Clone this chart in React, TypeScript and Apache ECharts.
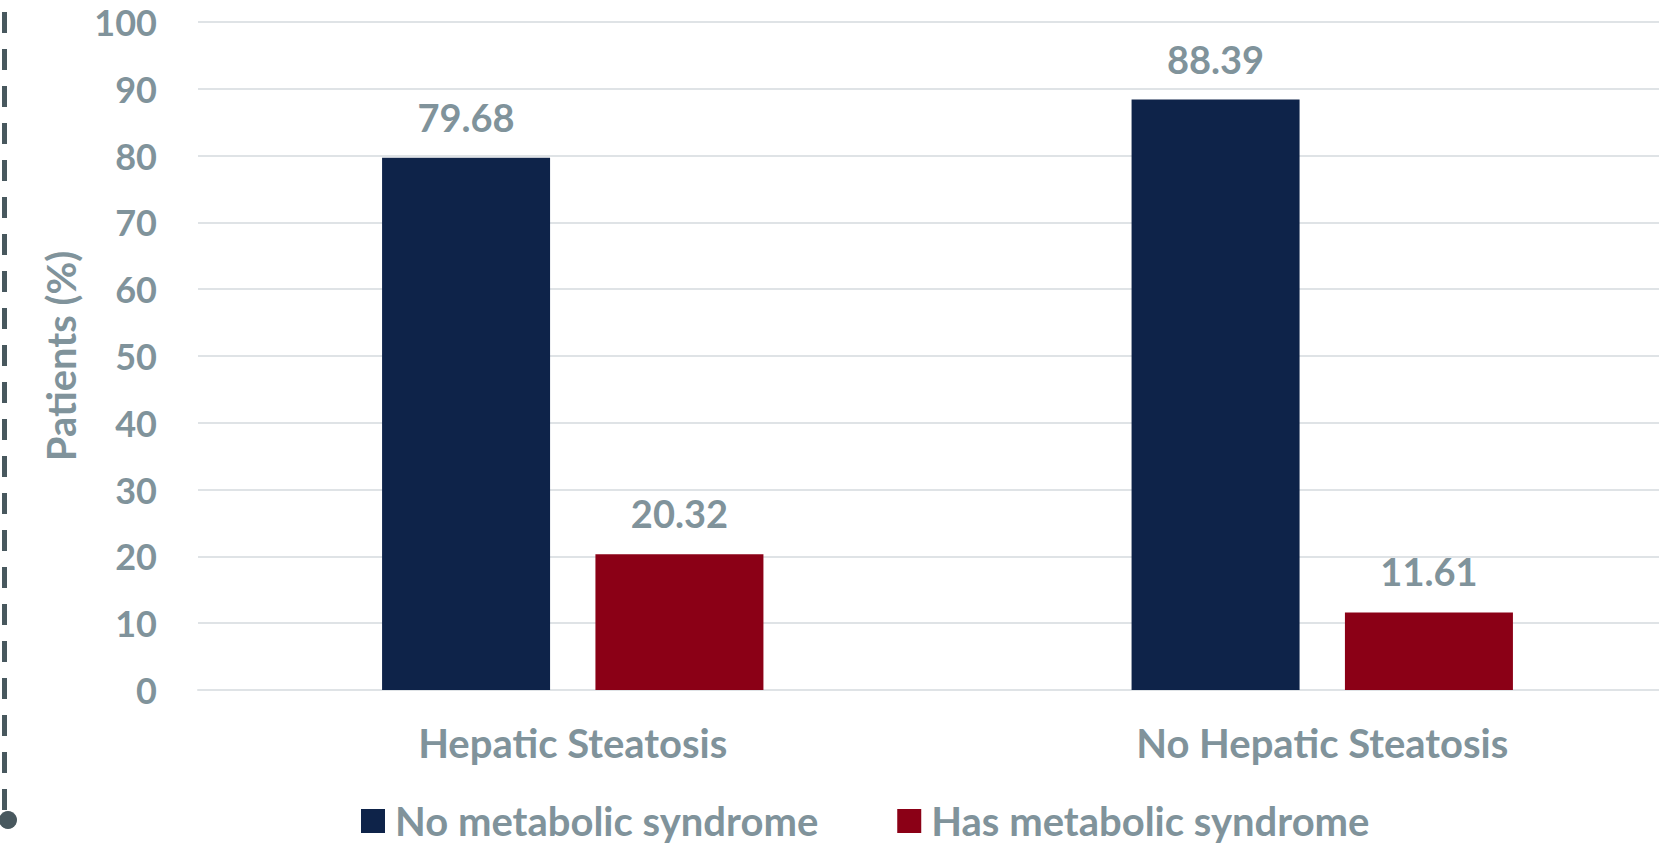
import React, { useEffect, useRef } from "react";
import * as echarts from "echarts";

const categories = ["Hepatic Steatosis", "No Hepatic Steatosis"];
const noMetabolic = [79.68, 88.39];
const hasMetabolic = [20.32, 11.61];
const seriesNames = ["No metabolic syndrome", "Has metabolic syndrome"];
const yAxisName = "Patients (%)";

const TEXT = "#80939b";
const FONT = "Lato";

export default function App() {
  const ref = useRef<HTMLDivElement>(null);
  useEffect(() => {
    document.body.style.margin = "0";
    document.body.style.overflow = "hidden";
    const chart = echarts.init(ref.current!, null, { renderer: "svg" });
    const labelStyle = {
      show: true,
      position: "top" as const,
      distance: 22,
      color: TEXT,
      fontFamily: FONT,
      fontWeight: "bold" as const,
      fontSize: 38,
      formatter: (p: any) => p.value.toFixed(2),
    };
    chart.setOption({
      animation: false,
      textStyle: { fontFamily: FONT },
      grid: { left: 198, right: 0, top: 22, bottom: 154 },
      legend: {
        left: 356,
        top: 796,
        icon: "rect",
        itemWidth: 24,
        itemHeight: 24,
        itemGap: 79,
        data: seriesNames,
        textStyle: {
          color: TEXT,
          fontFamily: FONT,
          fontWeight: "bold",
          fontSize: 40,
          padding: [0, 0, 0, 5],
        },
      },
      xAxis: {
        type: "category",
        data: categories,
        axisTick: { show: false },
        axisLine: { show: true, lineStyle: { color: "#dfe3e6", width: 2 } },
        axisLabel: {
          color: TEXT,
          fontFamily: FONT,
          fontWeight: "bold",
          fontSize: 40,
          margin: 33,
        },
      },
      yAxis: {
        type: "value",
        min: 0,
        max: 100,
        interval: 10,
        name: yAxisName,
        nameLocation: "middle",
        nameRotate: 90,
        nameGap: 117,
        nameTextStyle: {
          color: TEXT,
          fontFamily: FONT,
          fontWeight: "bold",
          fontSize: 40,
        },
        axisLine: { show: false },
        axisTick: { show: false },
        axisLabel: {
          color: TEXT,
          fontFamily: FONT,
          fontWeight: "bold",
          fontSize: 36,
          margin: 41,
        },
        splitLine: { lineStyle: { color: "#dfe3e6", width: 2 } },
      },
      series: [
        {
          name: seriesNames[0],
          type: "bar",
          data: noMetabolic,
          barWidth: 168,
          barGap: "27%",
          itemStyle: { color: "#0e2349" },
          label: labelStyle,
        },
        {
          name: seriesNames[1],
          type: "bar",
          data: hasMetabolic,
          barWidth: 168,
          itemStyle: { color: "#8b0016" },
          label: labelStyle,
        },
      ],
      graphic: [
        {
          type: "line",
          shape: { x1: 4.5, y1: 12, x2: 4.5, y2: 812 },
          style: { stroke: "#48585e", lineWidth: 5, lineDash: [21, 16] },
        },
        {
          type: "circle",
          shape: { cx: 8, cy: 820, r: 9 },
          style: { fill: "#48585e" },
        },
      ],
    });
    return () => chart.dispose();
  }, []);
  return <div ref={ref} style={{ width: 1697, height: 844 }} />;
}
